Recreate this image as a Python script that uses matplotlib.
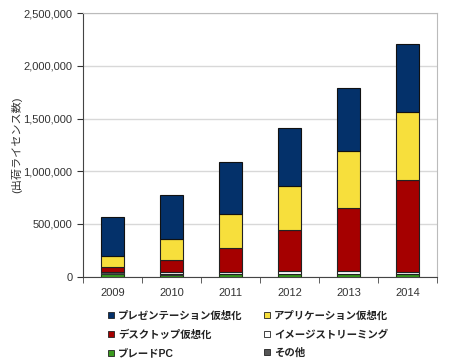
import matplotlib
matplotlib.use("Agg")
import matplotlib.pyplot as plt
import numpy as np
from matplotlib.ticker import FuncFormatter
from matplotlib.lines import Line2D

plt.rcParams["font.family"] = ["Liberation Sans", "Noto Sans CJK JP", "DejaVu Sans"]

# Shipped licences by year
years = ["2009", "2010", "2011", "2012", "2013", "2014"]
blade_pc = [24000, 20000, 22000, 25000, 25000, 24000]
other = [20000, 2000, 2000, 3000, 3000, 3000]
image_streaming = [3000, 20000, 18000, 29000, 29000, 20000]
desktop = [48000, 117000, 230000, 386000, 592000, 867000]
application = [105000, 196000, 320000, 420000, 543000, 649000]
presentation = [364000, 417000, 493000, 551000, 598000, 645000]

series = [
    ("ブレードPC", blade_pc, "#3a9a1e", "#1a3a10"),
    ("その他", other, "#555555", "#333333"),
    ("イメージストリーミング", image_streaming, "#ffffff", "#222222"),
    ("デスクトップ仮想化", desktop, "#a50000", "#222222"),
    ("アプリケーション仮想化", application, "#f7df3c", "#222222"),
    ("プレゼンテーション仮想化", presentation, "#04316a", "#111111"),
]

fig = plt.figure(figsize=(4.6, 3.64), dpi=100)
ax = fig.add_axes([0.180, 0.240, 0.770, 0.724])

x = np.arange(len(years))
bottom = np.zeros(len(years))
for name, vals, fc, ec in series:
    ax.bar(x, vals, bottom=bottom, width=0.4, color=fc, edgecolor=ec,
           linewidth=0.8, zorder=3)
    bottom += np.array(vals)

ax.set_ylim(0, 2500000)
ax.set_xlim(-0.5, len(years) - 0.5)
ax.set_yticks(np.arange(0, 2500001, 500000))
ax.yaxis.set_major_formatter(FuncFormatter(lambda v, p: f"{int(v):,}"))
ax.set_xticks(x)
ax.set_xticklabels(years)
ax.set_xticks(np.arange(-0.5, len(years), 1), minor=True)
ax.tick_params(axis="x", which="major", length=0, pad=8, labelsize=8, colors="#333333")
ax.tick_params(axis="x", which="minor", length=4, direction="out", color="#444444")
ax.tick_params(axis="y", length=4, direction="out", labelsize=8, colors="#333333")
ax.yaxis.grid(True, color="#d8d8d8", linewidth=1, zorder=0)
for s in ["top", "right"]:
    ax.spines[s].set_color("#bbbbbb")
for s in ["left", "bottom"]:
    ax.spines[s].set_color("#444444")
ax.set_ylabel("(出荷ライセンス数)", fontsize=8, color="#333333", labelpad=1)

# row-wise legend: fill columns so rows read pres/app, desktop/image, blade/other
legend_order = [5, 3, 0, 4, 2, 1]
handles = [
    Line2D([], [], marker="s", linestyle="none", markersize=5,
           markerfacecolor=series[i][2], markeredgecolor="#222222", markeredgewidth=0.6)
    for i in legend_order
]
labels = [series[i][0] for i in legend_order]
leg = fig.legend(handles, labels, ncol=2, loc="upper left", bbox_to_anchor=(0.225, 0.157),
                 frameon=False, fontsize=7.5, handlelength=0.7, handletextpad=0.3,
                 columnspacing=2.0, labelspacing=0.8, borderaxespad=0)
for t in leg.get_texts():
    t.set_color("#222222")
    t.set_fontweight("bold")

fig.savefig("out.png", dpi=100)
